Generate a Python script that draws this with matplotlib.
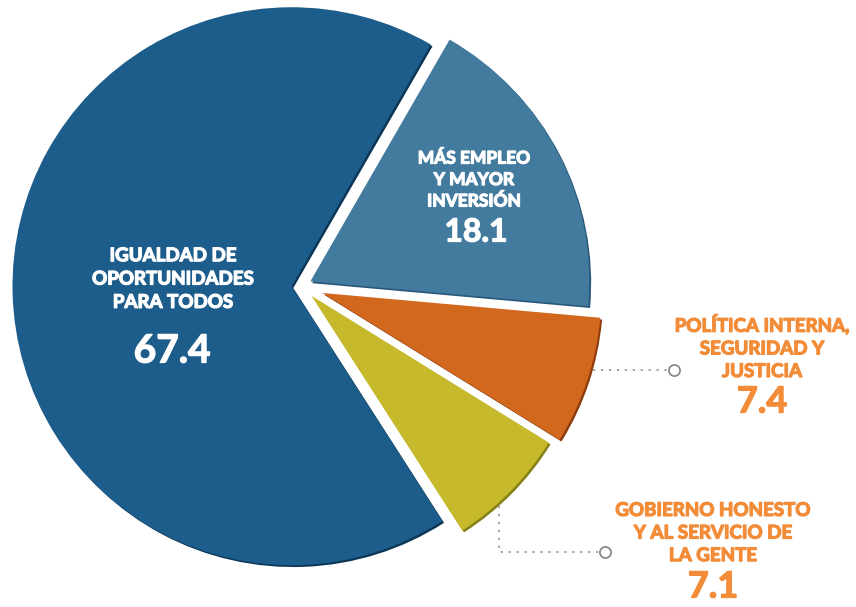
import numpy as np
import matplotlib
matplotlib.use("Agg")
import matplotlib.pyplot as plt
import matplotlib.patheffects as pe

# Shares of the four slices (percent)
labels = ["IGUALDAD DE\nOPORTUNIDADES\nPARA TODOS",
          "MÁS EMPLEO\nY MAYOR\nINVERSIÓN",
          "POLÍTICA INTERNA,\nSEGURIDAD Y\nJUSTICIA",
          "GOBIERNO HONESTO\nY AL SERVICIO DE\nLA GENTE"]
values = [67.4, 18.1, 7.4, 7.1]
value_text = ["67.4", "18.1", "7.4", "7.1"]

colors = ["#1d5d8b", "#437b9f", "#d2671e", "#c6b92b"]
shadows = ["#0c3656", "#29577a", "#8c3c0c", "#858016"]
label_orange = "#f28c38"

W, H = 856, 607
R = 279
CENTER = (301.5, H - 286)
EXPLODE = [10, 10, 22, 14]

plt.rcParams["font.family"] = ["Lato", "DejaVu Sans"]

fig = plt.figure(figsize=(W / 100, H / 100), dpi=100)
ax = fig.add_axes([0, 0, 1, 1])

wedges, _ = ax.pie(values, colors=colors, startangle=302.7, counterclock=False,
                   radius=R, center=CENTER, explode=EXPLODE,
                   wedgeprops=dict(linewidth=0))
for w, sc in zip(wedges, shadows):
    w.set_path_effects([pe.SimplePatchShadow(offset=(1.3, -1.3), shadow_rgbFace=sc, alpha=1.0),
                        pe.Normal()])

ax.set_xlim(0, W)
ax.set_ylim(0, H)
ax.set_aspect("equal")
ax.axis("off")


def label(x, y, s, color, size, **kw):
    # the original face is heavier than Lato Bold, so thicken it a little
    t = ax.text(x, y, s, color=color, fontsize=size, fontweight="bold",
                ha="center", va="center", **kw)
    t.set_path_effects([pe.withStroke(linewidth=0.9, foreground=color)])
    return t


# labels inside the two big slices
label(173, H - 279, labels[0], "white", 13.5, linespacing=1.45)
label(172, H - 351, value_text[0], "white", 28)
label(474, H - 180, labels[1], "white", 12.5, linespacing=1.42)
label(476, H - 232, value_text[1], "white", 23)

# outside labels
label(762, H - 347, labels[2], label_orange, 13.5, linespacing=1.4)
label(762, H - 402, value_text[2], label_orange, 26)
label(713, H - 533, labels[3], label_orange, 13.5, linespacing=1.4)
label(713, H - 587, value_text[3], label_orange, 26)


def arc_x(w, y):
    # x of the outer arc of a wedge at height y (right side)
    cx, cy = w.center
    return cx + np.sqrt(w.r ** 2 - (y - cy) ** 2)


def arc_y(w, x):
    # y of the outer arc of a wedge at position x (lower side)
    cx, cy = w.center
    return cy - np.sqrt(w.r ** 2 - (x - cx) ** 2)


dot_style = dict(color="#9a9a9a", linewidth=1.3, linestyle=(0, (1.2, 3.2)))
circ_style = dict(marker="o", markersize=8, markerfacecolor="white",
                  markeredgecolor="#8a8a8a", markeredgewidth=1.3, linestyle="none")

# leader for the orange slice
ly = H - 370
ax.plot([arc_x(wedges[2], ly) + 2, 670], [ly, ly], **dot_style)
ax.plot([674], [ly], **circ_style)

# leader for the yellow slice
lx = 499
ax.plot([lx, lx, 601], [arc_y(wedges[3], lx) - 4, H - 552, H - 552], **dot_style)
ax.plot([605], [H - 552], **circ_style)

fig.savefig("out.png", dpi=100)
